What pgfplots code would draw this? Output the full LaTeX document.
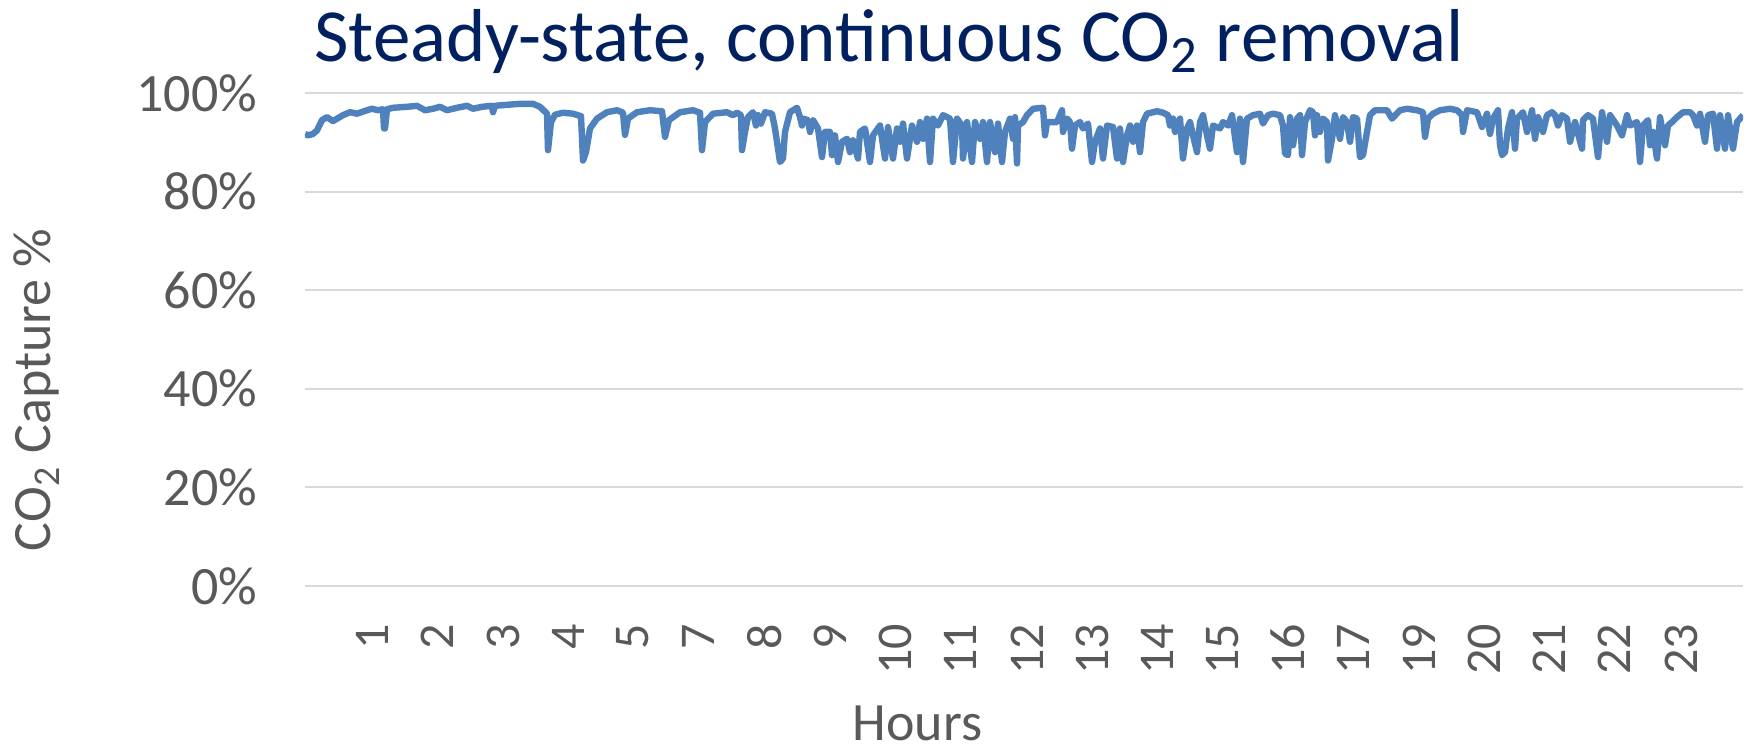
\documentclass[border=0pt]{standalone}
\usepackage{pgfplots}
\pgfplotsset{compat=1.18}
\usepackage{fontspec}
\setmainfont{Carlito}
\definecolor{titlecol}{RGB}{0,32,96}
\definecolor{txtgray}{RGB}{89,89,89}
\definecolor{gridgray}{RGB}{217,217,217}
\definecolor{linecol}{RGB}{79,129,189}
\begin{document}
\begin{tikzpicture}
\useasboundingbox (0,0) rectangle (439pt,187pt);
\begin{axis}[
  at={(76.25pt,40.5pt)}, anchor=south west,
  scale only axis, width=359.5pt, height=123.25pt,
  xmin=0, xmax=1438, ymin=0, ymax=100,
  axis line style={draw=none}, major tick length=0pt,
  ymajorgrids, major grid style={gridgray, line width=0.5pt},
  ytick={0,20,40,60,80,100},
  yticklabels={0\%,20\%,40\%,60\%,80\%,100\%},
  xtick={67,132,198,263,328,393,460,525,590,655,722,787,852,918,983,1048,1114,1179,1244,1309,1376},
  xticklabels={1,2,3,4,5,7,8,9,10,11,12,13,14,15,16,17,19,20,21,22,23},
  yticklabel style={font=\fontsize{13.5}{14}\selectfont, text=txtgray, anchor=east, inner sep=0pt, xshift=-11.75pt},
  xticklabel style={yshift=-9.25pt, rotate=90, font=\fontsize{12.5}{13}\selectfont, text=txtgray, anchor=east, inner sep=0pt},
  title={Steady-state, continuous CO\textsubscript{2} removal},
  every axis title shift=0pt,
  title style={at={(rel axis cs:0.406,1.063)}, anchor=base, inner sep=0pt, font=\fontsize{18.75}{20}\selectfont, text=titlecol},
  xlabel={Hours},
  xlabel style={at={(rel axis cs:0.426,-0.313)}, anchor=base, inner sep=0pt, font=\fontsize{13.5}{14}\selectfont, text=txtgray},
  ylabel={CO\textsubscript{2} Capture \%},
  ylabel style={at={(rel axis cs:-0.177,0.398)}, anchor=base, inner sep=0pt, font=\fontsize{13.5}{14}\selectfont, text=txtgray},
]
\addplot[linecol, line width=1.6pt, line join=round] coordinates {
(0,91.7)(3,91.4)(8,91.7)(12,92.4)(17,94.5)(22,95.1)(28,94.3)(38,95.5)(45,96.1)(52,95.8)(62,96.5)(67,96.8)(73,96.5)(78,96.7)(79,92.8)(80,92.8)(82,96.7)(88,97.0)(102,97.2)(112,97.4)(120,96.5)(128,96.8)(135,97.2)(142,96.5)(152,97.0)(162,97.4)(168,96.8)(177,97.2)(187,97.4)(188,96.1)(190,97.4)(202,97.6)(215,97.8)(228,97.8)(235,97.2)(242,95.8)(243,88.4)(246,94.1)(250,95.6)(258,96.0)(268,95.8)(276,95.3)(278,86.3)(281,88.0)(285,92.8)(292,94.8)(302,96.1)(312,96.5)(318,96.0)(320,91.5)(323,94.8)(332,96.1)(345,96.5)(357,96.3)(360,91.1)(364,94.5)(375,96.1)(388,96.5)(395,96.0)(397,88.4)(400,94.1)(408,95.8)(422,96.1)(428,95.5)(432,96.0)(436,95.5)(437,88.4)(440,92.1)(443,95.1)(448,96.1)(451,93.4)(453,95.5)(456,93.8)(460,96.1)(467,95.8)(470,92.8)(472,90.1)(475,86.0)(478,86.7)
(480,92.1)(485,96.1)(492,97.0)(495,95.1)(497,93.4)(498,94.8)(503,94.5)(505,92.1)(508,94.5)(513,92.8)(517,87.0)(520,92.1)(525,92.1)(527,87.4)(530,91.4)(533,86.0)(537,90.1)(542,90.7)(545,88.0)(548,90.4)(553,86.7)(555,92.1)(560,92.8)(565,86.0)(568,91.4)(575,93.4)(580,86.7)(583,93.1)(588,86.7)(592,92.8)(595,90.1)(598,93.8)(602,86.7)(607,93.4)(612,90.1)(615,94.1)(618,90.7)(622,94.8)(625,86.0)(628,94.8)(633,93.4)(638,95.5)(645,94.8)(648,86.0)(652,94.8)(657,93.4)(658,86.7)(662,94.1)(667,86.0)(670,94.1)(675,90.7)(678,94.1)(682,86.0)(685,94.1)(690,88.0)(693,93.8)(697,86.0)(700,92.1)(705,94.8)(708,90.7)(710,95.1)(712,85.7)(713,93.4)(718,94.1)(722,95.5)(728,96.8)(738,97.0)(740,91.4)(742,94.1)(752,94.1)(757,96.5)(758,92.1)(762,94.8)(765,94.1)(767,88.7)(770,93.4)(775,94.1)(778,92.8)(783,93.8)(787,86.0)(790,90.1)(795,92.8)(798,86.7)(802,93.4)(808,93.1)(812,86.7)(815,92.8)(818,86.0)(822,91.4)(825,93.4)(828,90.1)(832,93.4)(835,88.0)(838,94.1)(842,95.8)(852,96.3)(858,96.0)(863,95.5)(865,93.4)(868,94.8)(870,92.1)(875,94.8)(878,86.7)(882,92.8)(885,94.1)(888,91.4)(892,88.0)(895,94.1)(898,95.5)(902,91.4)(905,88.7)(908,93.4)(915,92.8)(918,94.1)(923,93.4)(927,95.5)(932,88.0)(935,94.8)(938,86.0)(942,94.8)(948,95.5)(955,95.8)(958,93.8)
(963,95.5)(968,95.8)(975,95.5)(978,93.4)(980,87.7)(983,87.4)(985,95.1)(988,89.4)(992,94.8)(995,95.5)(997,87.4)(1000,94.1)(1005,96.5)(1008,96.1)(1010,91.4)(1012,95.5)(1015,92.1)(1018,94.8)(1022,94.1)(1023,86.3)(1027,90.7)(1030,95.5)(1035,90.7)(1038,95.1)(1042,94.1)(1045,90.1)(1048,95.1)(1052,94.8)(1055,87.0)(1058,87.4)(1062,92.1)(1065,95.5)(1070,96.5)(1082,96.5)(1087,94.8)(1095,96.5)(1102,96.8)(1112,96.5)(1118,96.1)(1120,91.1)(1123,94.8)(1128,95.8)(1135,96.5)(1145,96.8)(1152,96.5)(1157,95.5)(1158,92.1)(1162,96.5)(1172,96.1)(1177,93.1)(1182,95.8)(1185,91.7)(1188,94.8)(1193,96.5)(1195,89.4)(1197,87.4)(1200,88.0)(1203,92.8)(1207,96.1)(1210,88.7)(1212,94.8)(1218,96.1)(1222,92.1)(1227,96.5)(1230,90.7)(1233,95.1)(1238,92.1)(1242,95.5)(1247,96.1)(1250,95.5)(1253,93.4)(1257,95.5)(1262,94.8)(1265,90.1)(1270,94.1)(1277,88.7)(1278,94.5)(1283,95.5)(1288,94.8)(1293,87.0)(1297,96.1)(1302,90.1)(1305,95.5)(1312,93.4)(1317,91.4)(1322,95.5)(1325,93.4)(1332,94.1)(1335,86.0)(1338,93.4)(1343,94.5)(1345,89.4)(1348,92.1)(1352,86.7)(1355,95.1)(1360,89.4)(1363,93.4)(1367,94.1)(1372,95.1)(1378,96.1)(1385,96.1)(1388,95.5)(1392,93.4)(1395,95.8)(1400,90.1)(1403,95.5)(1408,95.8)(1412,88.7)(1415,95.5)(1420,88.7)(1423,95.5)(1428,88.7)(1432,94.1)(1435,94.8)(1438,95.5)
};
\end{axis}
\end{tikzpicture}
\end{document}
